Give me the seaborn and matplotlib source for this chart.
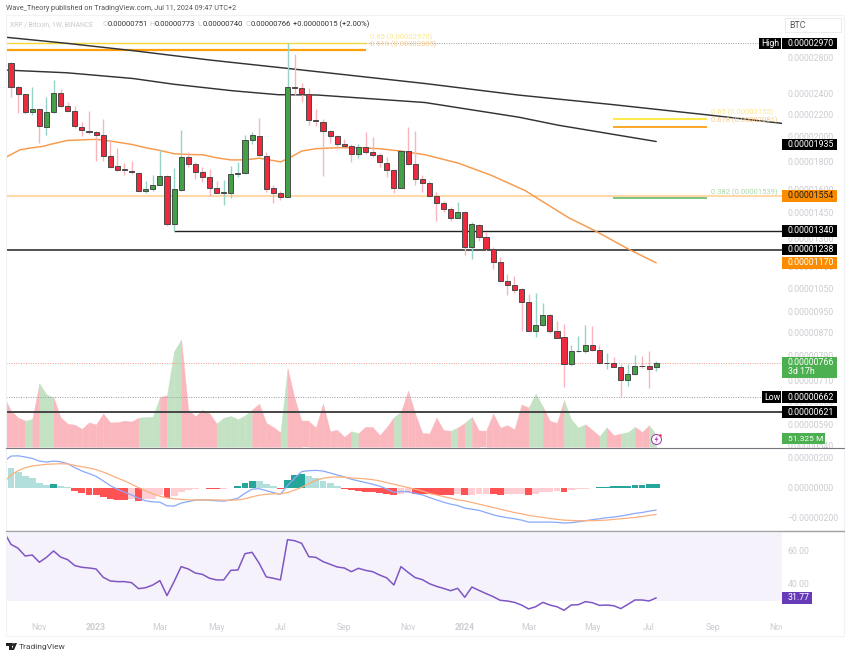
import numpy as np
import matplotlib
matplotlib.use('Agg')
import matplotlib.pyplot as plt
import matplotlib.transforms as mtransforms
from matplotlib.patches import Rectangle, Circle, Polygon
from matplotlib.lines import Line2D
import seaborn as sns

# prices are in 1e-8 BTC, first candle is cut by the left edge
weeks = np.arange(-1, 92)
opens = [2353,
         2735, 2469, 2394, 2216, 2248, 2083, 2216, 2407, 2277, 2226,
         2086, 2050, 2036, 2013, 1840, 1761, 1739, 1731, 1714, 1588,
         1599, 1631, 1688, 1377, 1595, 1834, 1781, 1717, 1683, 1608,
         1575, 1577, 1707, 1714, 1973, 2007, 1843, 1606, 1577, 1549,
         2469, 2455, 2397, 2145, 2130, 2050, 2001, 1940, 1918, 1856,
         1910, 1872, 1848, 1791, 1736, 1606, 1880, 1778, 1671, 1640,
         1554, 1506, 1470, 1418, 1451, 1249, 1375, 1308, 1243, 1176,
         1083, 1065, 1046, 990, 878, 900, 937, 878, 854, 762,
         804, 806, 825, 808, 765, 766, 753, 711, 731, 756,
         754, 751]
closes = [2742,
          2469, 2394, 2216, 2251, 2089, 2216, 2407, 2280, 2229, 2089,
          2053, 2036, 2016, 1843, 1758, 1736, 1733, 1717, 1588, 1599,
          1631, 1688, 1377, 1599, 1834, 1783, 1717, 1683, 1608, 1577,
          1579, 1707, 1714, 1973, 2010, 1848, 1604, 1577, 1549, 2469,
          2455, 2394, 2142, 2133, 2050, 2004, 1940, 1923, 1856, 1910,
          1872, 1848, 1793, 1733, 1606, 1880, 1781, 1671, 1640, 1554,
          1506, 1470, 1418, 1451, 1249, 1380, 1308, 1242, 1176, 1083,
          1065, 1044, 992, 878, 900, 936, 878, 852, 762, 804,
          806, 824, 810, 765, 766, 753, 711, 731, 756, 754,
          746, 766]
highs = [2766,
         2747, 2476, 2400, 2469, 2258, 2367, 2547, 2451, 2317, 2274,
         2127, 2229, 2047, 2158, 1967, 1907, 1786, 1801, 1719, 1659,
         1702, 1885, 1695, 1751, 2059, 1872, 1793, 1756, 1743, 1659,
         1664, 1768, 1793, 2010, 2039, 2167, 1872, 1625, 1590, 2970,
         2838, 2512, 2462, 2251, 2158, 2059, 2010, 1981, 1934, 1940,
         2039, 1996, 1864, 1832, 1743, 1885, 2083, 2044, 1695, 1659,
         1579, 1523, 1485, 1512, 1456, 1391, 1381, 1331, 1253, 1200,
         1114, 1106, 1051, 1024, 1031, 985, 942, 916, 903, 824,
         857, 898, 895, 827, 798, 784, 762, 762, 793, 787,
         804, 773]
lows = [2340,
        2367, 2210, 2204, 2188, 1945, 2010, 2210, 2268, 2216, 2077,
        2001, 2024, 1806, 1801, 1751, 1731, 1695, 1707, 1579, 1572,
        1590, 1625, 1369, 1337, 1590, 1756, 1671, 1648, 1557, 1572,
        1498, 1541, 1683, 1707, 1940, 1832, 1579, 1506, 1527, 1545,
        2384, 2317, 2097, 2089, 1688, 1945, 1899, 1912, 1793, 1827,
        1859, 1837, 1756, 1683, 1577, 1606, 1775, 1625, 1579, 1545,
        1395, 1450, 1395, 1414, 1211, 1189, 1285, 1231, 1138, 1080,
        1021, 1031, 878, 875, 856, 894, 869, 849, 690, 754,
        802, 799, 806, 762, 745, 751, 662, 693, 726, 749,
        687, 740]

# volume in millions
volume = [215,
          155, 126, 112, 120, 272, 225, 212, 126, 99, 95,
          77, 105, 96, 143, 105, 106, 112, 109, 125, 128,
          130, 214, 222, 411, 461, 159, 132, 158, 143, 100,
          125, 132, 119, 135, 160, 185, 103, 85, 62, 337,
          208, 110, 110, 83, 186, 67, 73, 43, 67, 59,
          86, 85, 50, 85, 128, 150, 241, 143, 60, 57,
          125, 72, 69, 83, 103, 129, 69, 69, 143, 83,
          93, 75, 182, 169, 229, 172, 112, 103, 201, 118,
          83, 97, 72, 46, 83, 50, 57, 63, 86, 64,
          93, 51.3]

macd_line = [172,
             207, 209, 201, 192, 174, 168, 174, 170, 157, 131,
             109, 92, 74, 44, 13, -11, -31, -48, -70, -87,
             -94, -96, -120, -122, -102, -92, -83, -81, -83, -87,
             -89, -81, -70, -37, -11, -7, -20, -33, -44, 13,
             61, 105, 111, 113, 109, 96, 83, 70, 55, 44,
             33, 22, 9, -9, -31, -26, -26, -39, -48, -65,
             -81, -96, -109, -118, -135, -142, -150, -164, -179, -190,
             -198, -205, -214, -227, -227, -227, -227, -229, -233, -231,
             -225, -218, -211, -205, -198, -194, -187, -179, -170, -164,
             -155, -148]
signal_line = [35,
               83, 111, 131, 142, 148, 153, 155, 157, 155, 146,
               137, 129, 118, 102, 83, 63, 44, 22, 0, -22,
               -41, -57, -68, -74, -78, -81, -81, -81, -81, -81,
               -83, -83, -81, -74, -61, -50, -44, -41, -41, -33,
               -17, 2, 26, 48, 61, 68, 70, 68, 63, 61,
               57, 52, 44, 33, 22, 11, 0, -11, -22, -39,
               -48, -59, -70, -81, -87, -98, -109, -120, -131, -142,
               -153, -164, -172, -183, -190, -196, -203, -209, -214, -216,
               -218, -218, -218, -216, -214, -209, -205, -201, -196, -190,
               -183, -177]
macd_hist = [131,
             129, 105, 78, 61, 31, 17, 24, 13, 2, -20,
             -33, -48, -52, -65, -76, -81, -83, -74, -85, -74,
             -72, -52, -70, -55, -26, -15, -7, -6, -9, -11,
             -9, -1, 9, 31, 46, 44, 24, 9, -9, 50,
             81, 89, 76, 61, 46, 28, 13, -9, -15, -24,
             -28, -31, -35, -44, -50, -41, -35, -39, -41, -44,
             -46, -50, -52, -44, -52, -46, -44, -41, -44, -48,
             -44, -41, -39, -48, -41, -28, -26, -24, -26, -13,
             -9, -7, -2, 4, 7, 9, 10, 11, 15, 20,
             24, 25]

rsi = [71.0,
       63.5, 61.2, 56.6, 57.2, 52.9, 55.8, 59.6, 56.0, 54.4, 50.9,
       49.9, 49.5, 48.9, 44.0, 41.8, 41.4, 41.4, 40.8, 37.2, 37.8,
       39.4, 42.0, 33.1, 41.4, 50.3, 48.9, 46.5, 45.7, 43.4, 42.4,
       42.4, 48.1, 48.3, 58.0, 58.8, 52.3, 44.2, 43.4, 42.4, 66.3,
       65.7, 64.1, 56.2, 55.8, 53.3, 51.7, 50.1, 49.5, 47.3, 49.3,
       48.1, 47.3, 45.3, 43.6, 39.4, 50.3, 46.9, 43.8, 42.6, 40.2,
       38.6, 37.4, 36.0, 37.4, 32.1, 38.2, 36.2, 34.3, 32.5, 30.3,
       29.9, 29.1, 27.5, 25.2, 26.5, 29.1, 27.5, 26.5, 24.4, 27.5,
       27.7, 29.5, 28.9, 27.3, 27.5, 27.1, 25.4, 27.9, 30.5, 30.5,
       29.9, 31.77]

# moving averages and trend line, read at a few weeks
trend_x = [-0.7, 7.85, 17.2, 28.1, 39, 58.4, 71.5, 84.7, 98.8, 108.7]
trend_y = [3047, 2970, 2879, 2766, 2670, 2504, 2385, 2291, 2188, 2115]
ma200_x = [-0.7, 7.85, 17.2, 22.9, 31.3, 37.7, 43.2, 58.4, 71.6, 77.2, 91]
ma200_y = [2651, 2621, 2558, 2497, 2428, 2388, 2385, 2310, 2171, 2098, 1958]
ma50_x = [-0.7, 0, 1.27, 3, 4.55, 5.5, 8, 12, 14, 17, 19, 21, 23, 25, 27, 29, 31, 33, 35, 37,
          38, 39, 41, 43, 46, 49, 52, 55, 58.4, 63.1, 67.8, 72.5, 78.6, 82.4, 87.1, 91]
ma50_y = [1832, 1853, 1890, 1907, 1918, 1934, 1967, 1976, 1962, 1934, 1907, 1885, 1859, 1853, 1851,
          1827, 1811, 1811, 1824, 1806, 1796, 1819, 1880, 1899, 1907, 1907, 1899, 1880, 1851,
          1786, 1695, 1590, 1418, 1340, 1240, 1170]

price_ticks = [2800, 2400, 2200, 2000, 1800, 1600, 1450, 1300, 1150, 1050, 950, 870, 790, 710, 650, 590, 540]
macd_ticks = [200, 0, -200]
rsi_ticks = [60, 40]
time_ticks = [4, 12, 21, 29, 38, 47, 56, 64, 73, 82, 90, 99, 108]
time_labels = ['Nov', '2023', 'Mar', 'May', 'Jul', 'Sep', 'Nov', '2024', 'Mar', 'May', 'Jul', 'Sep', 'Nov']

RED = '#ee2a3f'
GREEN = '#43a047'
WICK_RED = '#f9b4bc'
WICK_GREEN = '#97d4c8'
EDGE = '#4a4a4a'
FAINT = '#ccccd2'

sns.set_theme(style='white')
plt.rcParams['font.family'] = ['Roboto', 'DejaVu Sans']

W, H = 850, 656
fig = plt.figure(figsize=(W / 100, H / 100), dpi=100, facecolor='white')


def pane(top, bottom):
    return fig.add_axes([6 / W, (H - bottom) / H, 776 / W, (bottom - top) / H])


ax = pane(15, 447.5)
ax_vol = ax.twinx()
ax_macd = pane(448.5, 530)
ax_rsi = pane(531, 617)
ax_vol.set_zorder(1)
ax.set_zorder(2)
ax.patch.set_visible(False)

xlim = (-0.705, 108.74)
for a in (ax, ax_vol, ax_macd, ax_rsi):
    a.set_xlim(xlim)
    for s in a.spines.values():
        s.set_visible(False)

# volume area, each stretch takes the colour of its closing candle
for i in range(1, len(weeks)):
    col = '#c3e2c4' if closes[i] >= opens[i] else '#fab8be'
    ax_vol.fill_between(weeks[i - 1:i + 1], volume[i - 1:i + 1], facecolor=col, edgecolor=col, linewidth=0.25)
ax_vol.set_ylim(-3, 1856)
ax_vol.set_yticks([])

# price pane
ax.set_yscale('log')
ax.set_ylim(534.5, 3349)
ax.hlines(2970, *xlim, color='#9a9a9a', linewidth=0.7, linestyle=(0, (1, 1.5)), zorder=1)
ax.hlines(766, *xlim, color='#ef9a80', linewidth=0.7, linestyle=(0, (1, 1.5)), zorder=1)
ax.hlines(662, *xlim, color='#9a9a9a', linewidth=0.7, linestyle=(0, (1, 1.5)), zorder=1)
ax.hlines(1554, *xlim, color='#ffd9a6', linewidth=1.5, zorder=1)
ax.hlines(1340, 23, xlim[1], color='#222222', linewidth=1.0, zorder=1)
ax.hlines(1238, *xlim, color='#333333', linewidth=1.2, zorder=1)
ax.hlines(621, *xlim, color='#444444', linewidth=1.4, zorder=1)
ax.hlines(2970, xlim[0], 50.07, color='#f5d63d', linewidth=1.0, zorder=1)
ax.hlines(2885, xlim[0], 50.07, color='#ff9f0a', linewidth=1.6, zorder=1)
ax.hlines(2155, 84.95, 98.1, color='#ffe94d', linewidth=1.5, zorder=1)
ax.hlines(2081, 84.95, 98.1, color='#ff9800', linewidth=1.2, zorder=1)
ax.hlines(1539, 84.95, 98.1, color='#66bb6a', linewidth=1.2, zorder=1)

sns.lineplot(x=trend_x, y=trend_y, color='#333333', linewidth=1.05, estimator=None, ax=ax, zorder=2)
sns.lineplot(x=ma200_x, y=ma200_y, color='#333333', linewidth=1.05, estimator=None, ax=ax, zorder=2)
sns.lineplot(x=ma50_x, y=ma50_y, color='#f79a4b', linewidth=1.05, estimator=None, ax=ax, zorder=2)

# candles
up = np.array(closes) >= np.array(opens)
tops = np.maximum(opens, closes)
bottoms = np.minimum(opens, closes)
ax.vlines(weeks, lows, highs, colors=[WICK_GREEN if u else WICK_RED for u in up], linewidth=1.0, zorder=3)
ax.bar(weeks, tops - bottoms, bottom=bottoms, width=0.72, color=[GREEN if u else RED for u in up],
       edgecolor=EDGE, linewidth=0.7, zorder=4)

fib_labels = [(50.6, 2970, '0.65 (0.00002970)', '#fbe78c', 6),
              (50.6, 2885, '0.618 (0.00002885)', '#f9cf94', 6),
              (98.7, 2155, '0.65 (0.00002155)', '#fbe78c', 7),
              (98.7, 2081, '0.618 (0.00002081)', '#f9c98a', 6.5),
              (98.7, 1539, '0.382 (0.00001539)', '#a9d8ab', 6.5)]
for fx, fy, txt, col, off in fib_labels:
    ax.annotate(txt, (fx, fy), xytext=(0, off), textcoords='offset pixels', color=col, fontsize=5.5,
                va='center', zorder=5)

ax.yaxis.tick_right()
ax.set_yticks(price_ticks)
ax.set_yticklabels([f'{p * 1e-8:.8f}' for p in price_ticks])
ax.minorticks_off()
ax.tick_params(axis='y', length=0, pad=4, labelsize=6.3, labelcolor=FAINT)
ax.set_xticks([])

# macd pane
bar_cols = []
for i, h in enumerate(macd_hist):
    prev = macd_hist[i - 1] if i else h - 1
    if h >= 0:
        bar_cols.append('#26a69a' if h > prev else '#b2dfdb')
    else:
        bar_cols.append('#ffcdd2' if h >= prev else '#ff5252')
sns.barplot(x=weeks, y=macd_hist, hue=bar_cols, palette={c: c for c in set(bar_cols)}, native_scale=True,
            dodge=False, legend=False, width=0.97, saturation=1, linewidth=0, ax=ax_macd)
sns.lineplot(x=weeks, y=macd_line, color='#89a8fb', linewidth=0.9, estimator=None, ax=ax_macd)
sns.lineplot(x=weeks, y=signal_line, color='#fbb07c', linewidth=0.9, estimator=None, ax=ax_macd)
ax_macd.set_xlim(xlim)
ax_macd.set_ylim(-279, 257)
ax_macd.yaxis.tick_right()
ax_macd.set_yticks(macd_ticks)
ax_macd.set_yticklabels(['0.00000200', '0.00000000', '\u22120.00000200'])
ax_macd.tick_params(axis='y', length=0, pad=4, labelsize=6.3, labelcolor=FAINT)
ax_macd.set_xticks([])
ax_macd.set_xlabel('')
ax_macd.set_ylabel('')

# rsi pane
ax_rsi.axhspan(30, 70, color='#f5f2fb', linewidth=0, zorder=0)
sns.lineplot(x=weeks, y=rsi, color='#7e57c2', linewidth=1.1, estimator=None, ax=ax_rsi, zorder=2)
ax_rsi.set_xlim(xlim)
ax_rsi.set_ylim(20.4, 71.45)
ax_rsi.yaxis.tick_right()
ax_rsi.set_yticks(rsi_ticks)
ax_rsi.set_yticklabels(['60.00', '40.00'])
ax_rsi.tick_params(axis='y', length=0, pad=4, labelsize=6.3, labelcolor=FAINT)
ax_rsi.set_xticks(time_ticks)
ax_rsi.set_xticklabels(time_labels)
ax_rsi.tick_params(axis='x', length=0, pad=4.5, labelsize=6.3, labelcolor=FAINT)
for lab in ax_rsi.get_xticklabels():
    if lab.get_text() in ('2023', '2024'):
        lab.set_fontweight('bold')
clip = mtransforms.Bbox([[0, 0], [782, H]])
last_lab = ax_rsi.get_xticklabels()[-1]
last_lab.set_clip_box(clip)
last_lab.set_clip_on(True)

# everything below is placed in pixels from the top left
PX = mtransforms.Affine2D().scale(1, -1).translate(0, H)


def box(x0, y0, x1, y1, fc, ec='none', lw=0, z=5):
    fig.add_artist(Rectangle((x0, y0), x1 - x0, y1 - y0, transform=PX, facecolor=fc, edgecolor=ec,
                             linewidth=lw, zorder=z))


def label(x, y, txt, color, size=6.3, **kw):
    fig.text(x, y, txt, transform=PX, color=color, fontsize=size, va='center', zorder=6, **kw)


def y_of(a, value):
    return H - a.transData.transform((0, value))[1]


def tag(value, txt, fc='black', color='white'):
    y = y_of(ax, value)
    box(782, y - 5.7, 837.3, y + 5.7, fc)
    label(787.7, y, txt, color)


# frame and pane dividers
fig.add_artist(Rectangle((5.5, 15), 838, 621, transform=PX, facecolor='none', edgecolor='#f1f2f6',
                         linewidth=0.8, zorder=4))
fig.add_artist(Line2D([6, 844], [447.7, 447.7], transform=PX, color='#77777f', linewidth=0.8, zorder=4))
fig.add_artist(Line2D([6, 844], [530.5, 530.5], transform=PX, color='#a0a0a5', linewidth=1.0, zorder=4))

tag(2970, '0.00002970')
box(758.5, y_of(ax, 2970) - 5.7, 781.3, y_of(ax, 2970) + 5.7, 'black')
label(761, y_of(ax, 2970), 'High', 'white')
tag(1935, '0.00001935')
tag(1554, '0.00001554', fc='#fb8c00', color='#202020')
tag(1340, '0.00001340')
tag(1238, '0.00001238')
tag(1170, '0.00001170', fc='#fb8c00')
tag(662, '0.00000662')
box(762, y_of(ax, 662) - 5.7, 781.3, y_of(ax, 662) + 5.7, 'black')
label(764, y_of(ax, 662), 'Low', 'white')
tag(621, '0.00000621')

box(782, 357, 837.3, 377.5, '#4caf50')
label(787.7, 362.5, '0.00000766', 'white')
label(787.7, 371.5, '3d 17h', 'white')
box(782, 433, 825, 444.3, '#4caf50')
label(788.5, 438.8, '51.325 M', 'white', size=6)
box(782, 592, 812.3, 604, '#673ab7')
label(787.7, 598, '31.77', 'white')

fig.add_artist(Rectangle((785, 18), 56, 14, transform=PX, facecolor='white', edgecolor='#e9ebf0', linewidth=0.7,
                         zorder=5))
label(789, 25, 'BTC', '#555555', size=6.3)

# header and legend text
label(6, 9, 'Wave_Theory published on TradingView.com, Jul 11, 2024 09:47 UTC+2', '#555555', size=5.2)
label(10.5, 24.5, 'XRP / Bitcoin, 1W, BINANCE', '#c9c9cf', size=4.9)
for lx, letter, val in [(102.5, 'O', '0.00000751'), (149.5, 'H', '0.00000773'),
                        (197, 'L', '0.00000740'), (245, 'C', '0.00000766')]:
    label(lx, 24.5, letter, '#c9c9cf', size=5.5)
    label(lx + 5.5, 24.5, val, '#333333', size=5.5)
label(292.7, 24.5, '+0.00000015 (+2.00%)', '#333333', size=5.5)

# little flash badge on the last bar
fig.add_artist(Circle((656.5, 439.5), 5, transform=PX, facecolor='white', edgecolor='#ab47bc', linewidth=0.8, zorder=5))
fig.add_artist(Circle((660.5, 435.5), 1.3, transform=PX, facecolor='#f23645', edgecolor='none', zorder=6))
fig.add_artist(Polygon([(657.5, 435.5), (654.5, 440), (656.5, 440), (655.5, 443), (658.5, 438.5), (656.5, 438.5)],
                       transform=PX, facecolor='#ab47bc', edgecolor='none', zorder=6))

# tradingview logo
fig.add_artist(Polygon([(6, 643), (11.5, 643), (11.5, 650), (9, 650), (9, 646), (6, 646)], transform=PX,
                       facecolor='#222222', edgecolor='none', zorder=6))
fig.add_artist(Circle((13, 644.5), 1.4, transform=PX, facecolor='#222222', edgecolor='none', zorder=6))
fig.add_artist(Polygon([(14.5, 643), (17, 643), (14, 650), (11.5, 650)], transform=PX, facecolor='#222222',
                       edgecolor='none', zorder=6))
label(19, 646.5, 'TradingView', '#444444', size=6)

fig.savefig('out.png', dpi=100, facecolor='white')
